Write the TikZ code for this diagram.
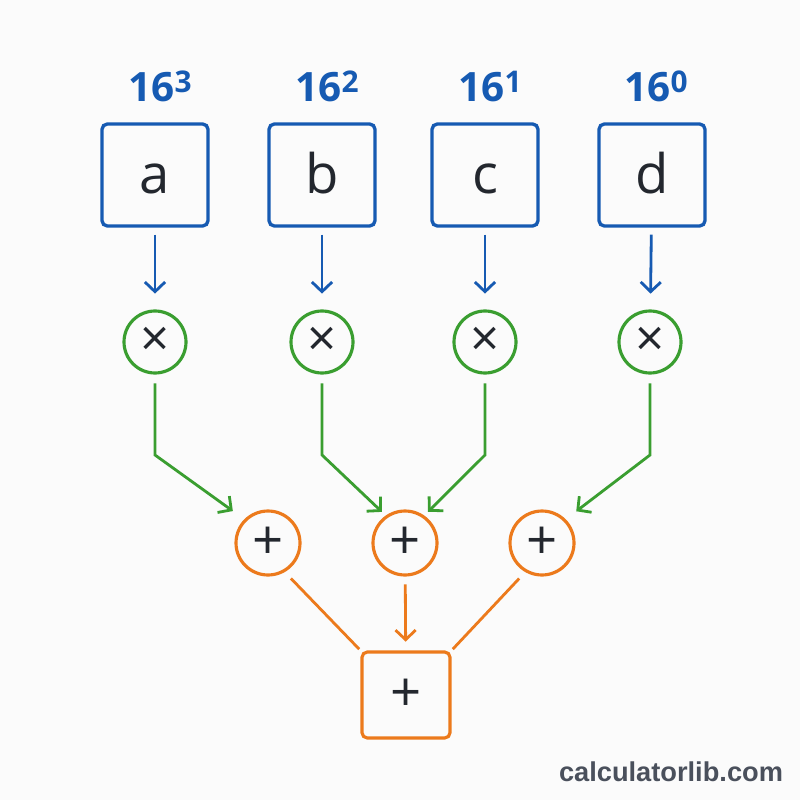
\documentclass[tikz,border=0pt]{standalone}
\usepackage{fontspec}
\setmainfont{Open Sans}
\newfontfamily\sitefont{Liberation Sans}
\usetikzlibrary{arrows.meta}
\definecolor{DigitBlue}{RGB}{22,90,178}
\definecolor{MulGreen}{RGB}{58,158,48}
\definecolor{AddOrange}{RGB}{236,122,28}
\definecolor{InkDark}{RGB}{35,39,46}
\definecolor{SiteGray}{RGB}{74,80,92}
\definecolor{PaperWhite}{RGB}{251,251,251}
\tikzset{
  digit/.style={draw=DigitBlue,rounded corners=3pt,line width=1.9pt,
    minimum width=2.12cm,minimum height=2.04cm,inner sep=0pt,
    text height=20.5pt,text depth=0pt,text=InkDark,
    font=\fontsize{31}{36}\selectfont},
  power/.style={text=DigitBlue,inner sep=0pt,anchor=base,
    font=\bfseries\fontsize{23}{28}\selectfont},
  mul/.style={circle,draw=MulGreen,line width=1.8pt,minimum size=1.24cm,
    inner sep=0pt,text=InkDark,font=\fontsize{29}{30}\selectfont},
  add/.style={circle,draw=AddOrange,line width=1.8pt,minimum size=1.28cm,
    inner sep=0pt,text=InkDark,font=\fontsize{31}{34}\selectfont},
  total/.style={draw=AddOrange,rounded corners=3pt,line width=1.8pt,
    minimum width=1.76cm,minimum height=1.72cm,inner sep=0pt,
    text=InkDark,font=\fontsize{31}{34}\selectfont},
  barb/.style={-{Straight Barb[length=5.5pt,width=11.5pt]},line width=1.6pt},
  bluearrow/.style={barb,DigitBlue,shorten <=4pt,shorten >=9pt},
  greenarrow/.style={barb,MulGreen,shorten <=5pt},
  orangearrow/.style={barb,AddOrange,shorten <=4.5pt,shorten >=5pt},
  orangeline/.style={AddOrange,line width=1.6pt},
  site/.style={text=SiteGray,inner sep=0pt,
    font=\sitefont\bfseries\fontsize{15.5}{18}\selectfont}
}
\newcommand{\hexpow}[1]{16\raisebox{5.5pt}{\fontsize{17}{17}\selectfont #1}}

\begin{document}
\begin{tikzpicture}[x=0.02cm,y=-0.02cm]
  \fill[PaperWhite] (0,0) rectangle (800,800);
  \useasboundingbox (0,0) rectangle (800,800);

  % hex digits and their place values
  \node[digit] (a) at (155,175) {a};
  \node[digit] (b) at (322,175) {b};
  \node[digit] (c) at (485,175) {c};
  \node[digit] (d) at (652,175) {d};
  \node[power] (pa) at (160,102) {\hexpow{3}};
  \node[power] (pb) at (327,102) {\hexpow{2}};
  \node[power] (pc) at (490,102) {\hexpow{1}};
  \node[power] (pd) at (656,102) {\hexpow{0}};

  % products
  \node[mul] (m1) at (155,342) {×};
  \node[mul] (m2) at (322,342) {×};
  \node[mul] (m3) at (485,342) {×};
  \node[mul] (m4) at (650,342) {×};

  % partial sums and total
  \node[add] (p1) at (268,543) {+};
  \node[add] (p2) at (405,543) {+};
  \node[add] (p3) at (542,543) {+};
  \node[total] (s) at (406,695) {+};
  \coordinate (kink) at (0,455);

  \draw[bluearrow] (a) -- (m1);
  \draw[bluearrow] (b) -- (m2);
  \draw[bluearrow] (c) -- (m3);
  \draw[bluearrow] (d) -- (m4);

  \draw[greenarrow,shorten >=8pt] (m1) -- (m1 |- kink) -- (p1.135);
  \draw[greenarrow,shorten >=3pt] (m2) -- (m2 |- kink) -- (p2.125);
  \draw[greenarrow,shorten >=3pt] (m3) -- (m3 |- kink) -- (p3.125 -| p2.55);
  \draw[greenarrow,shorten >=7.5pt] (m4) -- (m4 |- kink) -- (p3.45);

  \draw[orangeline,shorten <=5pt,shorten >=1pt] (p1.-60) -- (s.north west);
  \draw[orangearrow] (p2) -- (s);
  \draw[orangeline,shorten <=5pt,shorten >=1pt] (p3.-120) -- (s.north east);

  \node[site] (url) at (671,772) {calculatorlib.com};
\end{tikzpicture}
\end{document}
